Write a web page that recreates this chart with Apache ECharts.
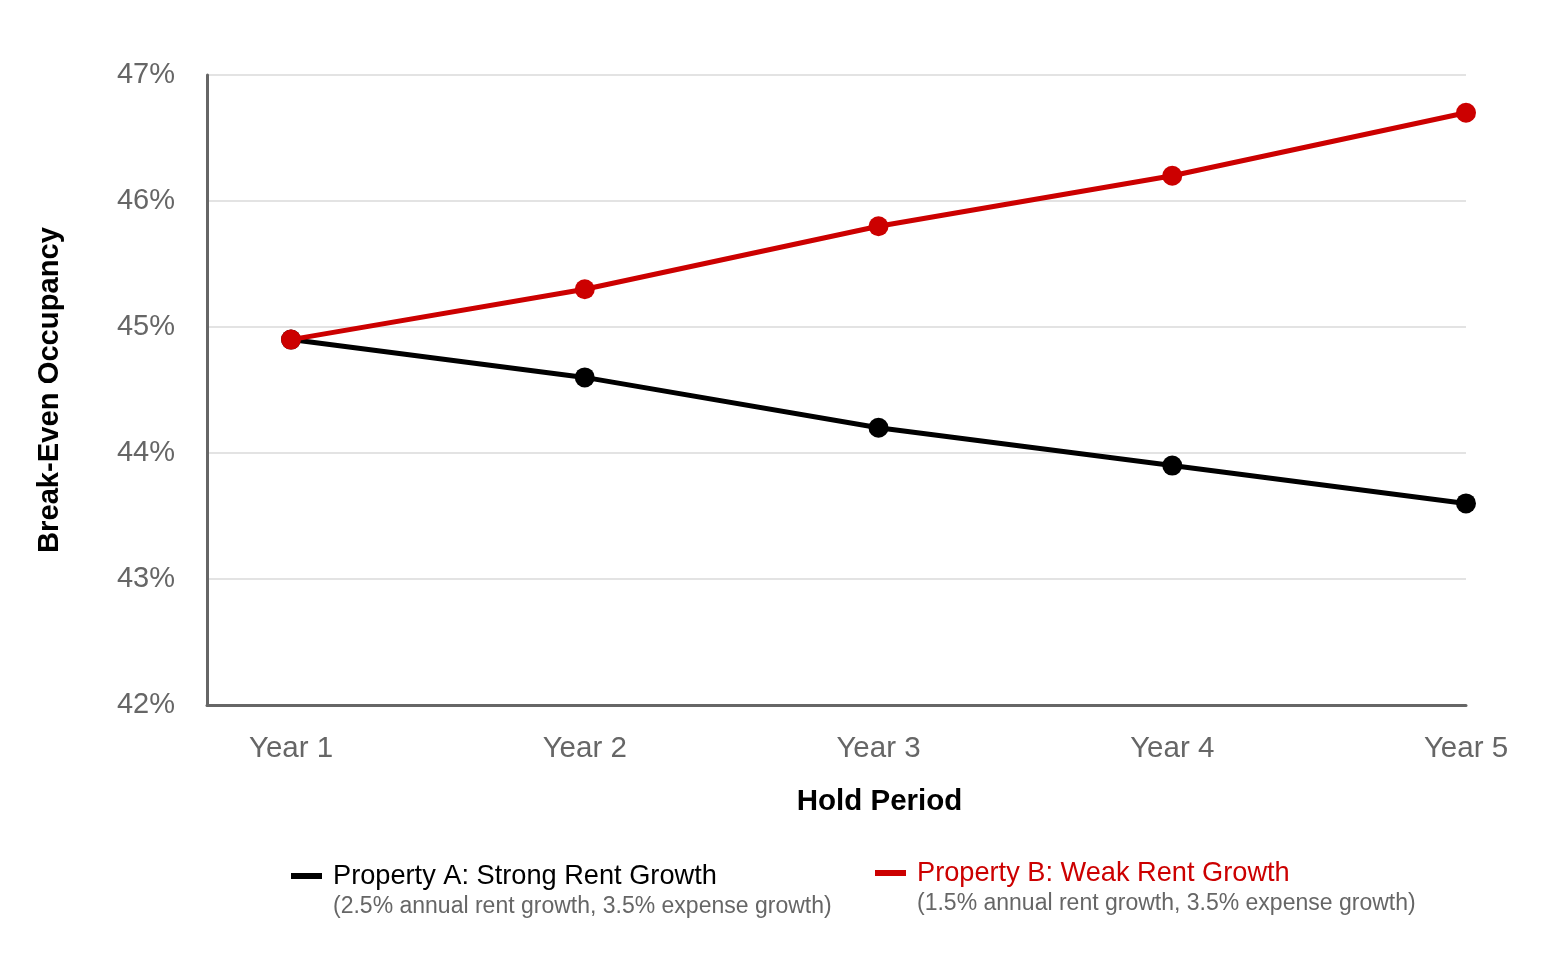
<!DOCTYPE html>
<html>
<head>
<meta charset="utf-8">
<script src="https://cdn.jsdelivr.net/npm/echarts@6/dist/echarts.min.js"></script>
<style>
html,body{margin:0;padding:0;background:#fff;}
#chart{width:1566px;height:976px;}
</style>
</head>
<body>
<div id="chart"></div>
<script>
const years = [1, 2, 3, 4, 5];
const yearLabels = ['Year 1', 'Year 2', 'Year 3', 'Year 4', 'Year 5'];
const propertyA = [44.9, 44.6, 44.2, 43.9, 43.6];
const propertyB = [44.9, 45.3, 45.8, 46.2, 46.7];
const yTicks = [42, 43, 44, 45, 46, 47];

const FONT = '"Liberation Sans", Arial, sans-serif';
const chart = echarts.init(document.getElementById('chart'));
chart.setOption({
  backgroundColor: '#fff',
  animation: false,
  textStyle: { fontFamily: FONT },
  grid: { left: 207, right: 100, top: 75, bottom: 271, containLabel: false },
  xAxis: {
    type: 'value',
    min: 0.714,
    max: 5,
    name: 'Hold Period',
    nameLocation: 'middle',
    nameGap: 82,
    nameTextStyle: { fontFamily: FONT, fontSize: 29.5, fontWeight: 'bold', color: '#000', padding: [0, 0, 0, 86] },
    axisLine: { show: true, onZero: false, lineStyle: { color: '#666', width: 3 } },
    axisTick: { show: false },
    splitLine: { show: false },
    axisLabel: {
      customValues: years,
      formatter: v => yearLabels[years.indexOf(Math.round(v))] || '',
      fontFamily: FONT, fontSize: 29.5, color: '#666', margin: 29
    }
  },
  yAxis: {
    type: 'value',
    min: 42,
    max: 47,
    interval: 1,
    name: 'Break-Even Occupancy',
    nameLocation: 'middle',
    nameGap: 143,
    nameTextStyle: { fontFamily: FONT, fontSize: 29.2, fontWeight: 'bold', color: '#000' },
    axisLine: { show: true, lineStyle: { color: '#666', width: 3 } },
    axisTick: { show: false },
    splitLine: { show: true, lineStyle: { color: '#e3e3e3', width: 2 } },
    axisLabel: {
      formatter: v => v + '%',
      fontFamily: FONT, fontSize: 29, color: '#666', margin: 32,
      padding: [4, 0, 0, 0]
    }
  },
  series: [
    {
      name: 'Property A: Strong Rent Growth',
      type: 'line',
      data: years.map((x, i) => [x, propertyA[i]]),
      symbol: 'circle',
      symbolSize: 20,
      lineStyle: { color: '#000', width: 5 },
      itemStyle: { color: '#000' },
      z: 2
    },
    {
      name: 'Property B: Weak Rent Growth',
      type: 'line',
      data: years.map((x, i) => [x, propertyB[i]]),
      symbol: 'circle',
      symbolSize: 20,
      lineStyle: { color: '#cc0000', width: 5 },
      itemStyle: { color: '#cc0000' },
      z: 3
    }
  ],
  graphic: [
    { type: 'rect', shape: { x: 291, y: 873, width: 31, height: 6 }, style: { fill: '#000' } },
    { type: 'text', x: 333, y: 877, style: { text: 'Property A: Strong Rent Growth', fill: '#000', font: '27.2px ' + FONT, verticalAlign: 'middle' } },
    { type: 'text', x: 333, y: 907, style: { text: '(2.5% annual rent growth, 3.5% expense growth)', fill: '#666', font: '23px ' + FONT, verticalAlign: 'middle' } },
    { type: 'rect', shape: { x: 875, y: 870, width: 31, height: 6 }, style: { fill: '#cc0000' } },
    { type: 'text', x: 917, y: 874, style: { text: 'Property B: Weak Rent Growth', fill: '#cc0000', font: '27.2px ' + FONT, verticalAlign: 'middle' } },
    { type: 'text', x: 917, y: 904, style: { text: '(1.5% annual rent growth, 3.5% expense growth)', fill: '#666', font: '23px ' + FONT, verticalAlign: 'middle' } }
  ]
});
</script>
</body>
</html>
